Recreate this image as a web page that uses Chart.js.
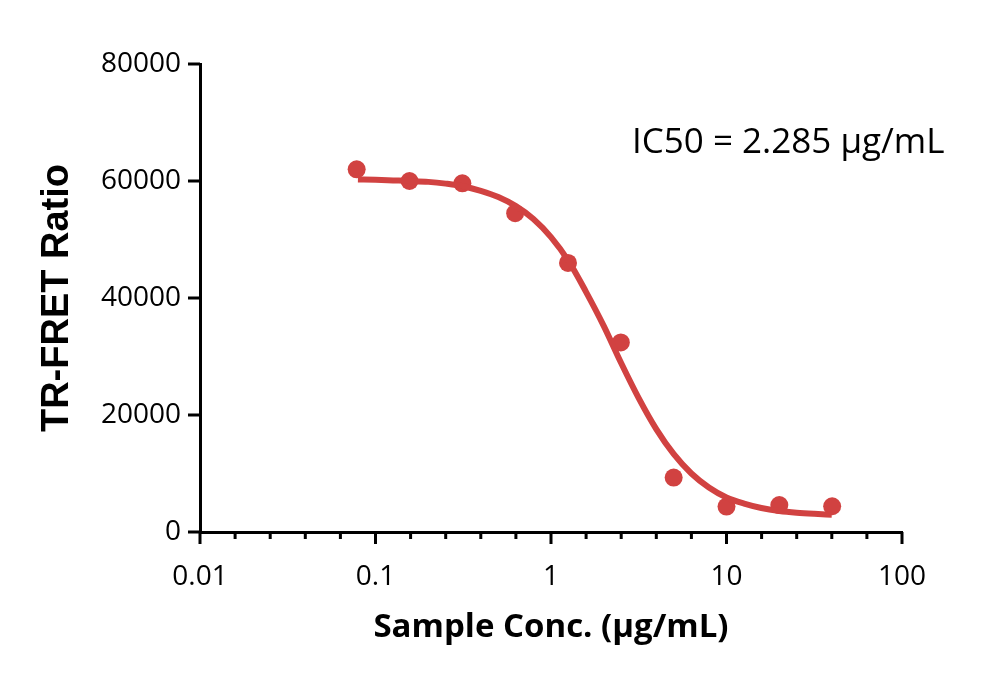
<!DOCTYPE html>
<html>
<head>
<meta charset="utf-8">
<script src="https://cdn.jsdelivr.net/npm/chart.js@4"></script>
<style>
  html, body { margin: 0; padding: 0; background: #fff; }
  #wrap { width: 1000px; height: 680px; }
</style>
</head>
<body>
<div id="wrap"><canvas id="ic50Chart" width="1000" height="680"></canvas></div>
<script>
// measured points (2-fold dilution series)
const concentrations = [0.078125, 0.15625, 0.3125, 0.625, 1.25, 2.5, 5, 10, 20, 40];
const ratios = [62000, 60000, 59600, 54500, 46000, 32400, 9300, 4350, 4600, 4400];

// fitted curve
const fitConc = [0.0794, 0.1, 0.126, 0.158, 0.2, 0.251, 0.316, 0.398, 0.501, 0.631, 0.794, 1.0,
    1.26, 1.58, 2.0, 2.51, 3.16, 3.98, 5.01, 6.31, 7.94, 10, 12.6, 15.8, 20, 25.1, 31.6, 39.8];
const fitRatio = [60250, 60200, 60100, 60000, 59850, 59550, 59100, 58300, 57250, 55700, 53500, 50400,
    46300, 41100, 35200, 28900, 22900, 17600, 13300, 10000, 7600, 5900, 4850, 4100, 3600, 3300, 3100, 2950];

const xMajorTicks = [0.01, 0.1, 1, 10, 100];
const xTickLabels = ['0.01', '0.1', '1', '10', '100'];
const yTicks = [0, 20000, 40000, 60000, 80000];

const red = '#d14241';

// axis tick marks drawn by hand (GraphPad-style minor ticks)
const axisTicks = {
    id: 'axisTicks',
    afterDraw(chart) {
        const {ctx, scales: {x, y}} = chart;
        const left = chart.chartArea.left;
        const bottom = chart.chartArea.bottom;
        ctx.save();
        ctx.strokeStyle = '#000';
        ctx.lineWidth = 3;
        ctx.beginPath();
        yTicks.forEach(v => {
            const py = y.getPixelForValue(v);
            ctx.moveTo(left - 12, py);
            ctx.lineTo(left, py);
        });
        xMajorTicks.forEach((v, i) => {
            const px = x.getPixelForValue(v);
            ctx.moveTo(px, bottom);
            ctx.lineTo(px, bottom + 12);
            if (i < xMajorTicks.length - 1) {
                for (let k = 1; k < 5; k++) {
                    const mx = x.getPixelForValue(v * Math.pow(10, k / 5));
                    ctx.moveTo(mx, bottom);
                    ctx.lineTo(mx, bottom + 7);
                }
            }
        });
        ctx.stroke();

        ctx.fillStyle = '#000';
        ctx.font = '35px "Open Sans"';
        ctx.textBaseline = 'middle';
        ctx.textAlign = 'left';
        ctx.fillText('IC50 = 2.285 µg/mL', 632, 143);
        ctx.restore();
    }
};

const ctx = document.getElementById('ic50Chart').getContext('2d');

new Chart(ctx, {
    data: {
        datasets: [{
            type: 'line',
            label: 'Fit',
            data: fitConc.map((c, i) => ({x: c, y: fitRatio[i]})),
            borderColor: red,
            borderWidth: 6,
            pointRadius: 0,
            cubicInterpolationMode: 'monotone',
            fill: false
        }, {
            type: 'scatter',
            label: 'Sample',
            data: concentrations.map((c, i) => ({x: c, y: ratios[i]})),
            backgroundColor: red,
            borderColor: red,
            pointRadius: 9,
            pointBorderWidth: 0
        }]
    },
    options: {
        responsive: false,
        animation: false,
        layout: {
            padding: {left: 35, right: 98, top: 64, bottom: 20}
        },
        plugins: {
            legend: {display: false},
            tooltip: {enabled: false}
        },
        scales: {
            x: {
                type: 'logarithmic',
                min: 0.01,
                max: 100,
                grid: {
                    display: true,
                    drawOnChartArea: false,
                    drawTicks: true,
                    tickLength: 12,
                    tickColor: 'rgba(0,0,0,0)'
                },
                border: {display: true, color: '#000', width: 3},
                ticks: {
                    autoSkip: false,
                    maxRotation: 0,
                    padding: 16,
                    color: '#000',
                    font: {family: '"Open Sans"', size: 28},
                    callback: function (value) {
                        const idx = xMajorTicks.findIndex(t => Math.abs(t - value) / t < 1e-6);
                        return idx >= 0 ? xTickLabels[idx] : '';
                    }
                },
                title: {
                    display: true,
                    text: 'Sample Conc. (µg/mL)',
                    color: '#000',
                    font: {family: '"Open Sans"', size: 33, weight: 'bold'},
                    padding: {top: 0, bottom: 13}
                },
                afterFit: function (scale) {
                    scale.height = 128;
                }
            },
            y: {
                type: 'linear',
                min: 0,
                max: 80000,
                afterBuildTicks: function (scale) {
                    scale.ticks = yTicks.map(v => ({value: v}));
                },
                grid: {
                    display: true,
                    drawOnChartArea: false,
                    drawTicks: true,
                    tickLength: 12,
                    tickColor: 'rgba(0,0,0,0)'
                },
                border: {display: true, color: '#000', width: 3},
                ticks: {
                    padding: 7,
                    color: '#000',
                    font: {family: '"Open Sans"', size: 28},
                    callback: function (value) {
                        return String(value);
                    }
                },
                title: {
                    display: true,
                    text: 'TR-FRET Ratio',
                    color: '#000',
                    font: {family: '"Liberation Sans"', size: 38, weight: 'bold'},
                    padding: {top: 0, bottom: 0}
                },
                afterFit: function (scale) {
                    scale.width = 165;
                }
            }
        }
    },
    plugins: [axisTicks]
});
</script>
</body>
</html>
